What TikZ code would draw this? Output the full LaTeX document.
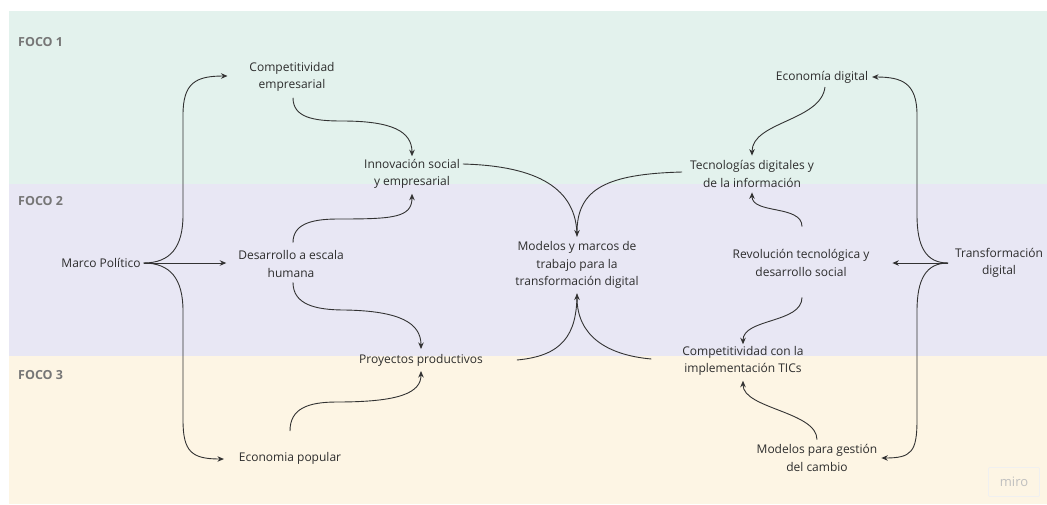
\documentclass[tikz,border=0pt]{standalone}
\usepackage{fontspec}
\setmainfont{Open Sans}
\usetikzlibrary{arrows.meta,calc}
\definecolor{bandA}{RGB}{227,242,237}
\definecolor{bandB}{RGB}{232,231,244}
\definecolor{bandC}{RGB}{253,245,228}
\definecolor{ink}{RGB}{45,45,45}
\definecolor{focogray}{RGB}{118,118,118}
\definecolor{linegray}{RGB}{50,50,50}
\tikzset{
  lbl/.style={align=center, text=ink, inner xsep=4pt, inner ysep=5pt, outer sep=0pt,
    font=\fontsize{12}{17.5}\selectfont},
  foco/.style={anchor=west, text=focogray, inner sep=0pt, font=\fontsize{12.5}{14}\selectfont\bfseries},
  conn/.style={draw=linegray, line width=0.9pt, -{Stealth[length=6.5pt,width=5.5pt]}},
  plain/.style={draw=linegray, line width=0.9pt}
}
\begin{document}
\begin{tikzpicture}[x=1pt,y=-1pt]
\useasboundingbox (0,0) rectangle (1047,504);
% bands
\fill[bandA] (9,11) rectangle (1047,184);
\fill[bandB] (9,184) rectangle (1047,356);
\fill[bandC] (9,356) rectangle (1047,504);
\node[foco] (f1) at (18,42) {FOCO 1};
\node[foco] (f2) at (18,201) {FOCO 2};
\node[foco] (f3) at (18,375) {FOCO 3};
% nodes
\node[lbl] (mp) at (101,263) {Marco Político};
\node[lbl] (cemp) at (292,77) {Competitividad\\empresarial};
\node[lbl] (dh) at (291,264) {Desarrollo a escala\\humana};
\node[lbl] (ep) at (290,458) {Economia popular};
\node[lbl] (inno) at (412,174) {Innovación social\\y empresarial};
\node[lbl] (pp) at (421,360) {Proyectos productivos};
\node[lbl] (mm) at (577,265) {Modelos y marcos de\\trabajo para la\\transformación digital};
\node[lbl] (ed) at (822,77) {Economía digital};
\node[lbl] (tec) at (752,174) {Tecnologías digitales y\\de la información};
\node[lbl] (rev) at (801,263) {Revolución tecnológica y\\desarrollo social};
\node[lbl] (td) at (999,263) {Transformación\\digital};
\node[lbl] (cci) at (743,361) {Competitividad con la\\implementación TICs};
\node[lbl] (mg) at (817,458) {Modelos para gestión\\del cambio};
% watermark
\node[draw=black!6, line width=0.6pt, rounded corners=1pt, minimum width=51pt, minimum height=29pt,
  text=black!25, font=\fontsize{13}{15}\selectfont] (miro) at (1014,482) {miro};
% connectors: Marco Politico
\draw[conn] ($(mp.east)+(-1,0)$) .. controls +(27,0) and +(0,32) .. (183,215) -- (183,115)
  .. controls +(0,-32) and +(-32,0) .. ($(cemp.west)+(-18,-1)$);
\draw[conn] ($(mp.east)+(-1,0)$) -- ($(dh.west)+(-8,-1)$);
\draw[conn] ($(mp.east)+(-1,0)$) .. controls +(27,0) and +(0,-32) .. (183,311) -- (183,420)
  .. controls +(0,32) and +(-32,0) .. ($(ep.west)+(-11,1)$);
% left inner
\draw[conn] ($(cemp.south)+(1,1)$) .. controls +(0,20) and +(-28,0) .. (342,121)
  .. controls +(50,0) and +(0,-25) .. ($(inno.north)+(0,2)$);
\draw[conn] ($(dh.north)+(2,-3)$) .. controls +(0,-18) and +(-28,0) .. (338,219)
  .. controls +(55,0) and +(0,24) .. (inno.south);
\draw[conn] ($(dh.south)+(2,0)$) .. controls +(0,22) and +(-30,0) .. (345,310)
  .. controls +(55,1) and +(0,-26) .. (pp.north);
\draw[conn] ($(ep.north)+(0,-16)$) .. controls +(0,-22) and +(-30,0) .. (337,402)
  .. controls +(62,0) and +(0,22) .. (pp.south);
% into Modelos y marcos
\draw[plain] ($(inno.east)+(-1,-10)$) .. controls +(75,2) and +(0,-48) .. (mm.north);
\draw[conn] ($(tec.west)+(-4,-2)$) .. controls +(-75,2) and +(0,-48) .. (mm.north);
\draw[plain] ($(pp.east)+(30,0)$) .. controls +(45,-4) and +(0,42) .. (mm.south);
\draw[conn] ($(cci.west)+(-27,-2)$) .. controls +(-45,-4) and +(0,42) .. (mm.south);
% right inner
\draw[conn] ($(ed.south)+(3,-1)$) .. controls +(-4,34) and +(0,-34) .. (tec.north);
\draw[conn] ($(rev.north)+(1,-18)$) .. controls +(0,-22) and +(0,22) .. (tec.south);
\draw[conn] ($(rev.south)+(1,16)$) .. controls +(0,26) and +(0,-26) .. ($(cci.north)+(0,3)$);
\draw[conn] (mg.north) .. controls +(0,-28) and +(0,28) .. (cci.south);
% Transformacion digital
\draw[conn] ($(td.west)+(-3,0)$) -- ($(rev.east)+(19,0)$);
\draw[conn] ($(td.west)+(-3,0)$) .. controls +(-22,0) and +(0,32) .. (917,215) -- (917,115)
  .. controls +(0,-32) and +(30,0) .. (ed.east);
\draw[conn] ($(td.west)+(-3,0)$) .. controls +(-22,0) and +(0,-32) .. (917,311) -- (917,420)
  .. controls +(0,32) and +(30,0) .. (mg.east);
\end{tikzpicture}
\end{document}
